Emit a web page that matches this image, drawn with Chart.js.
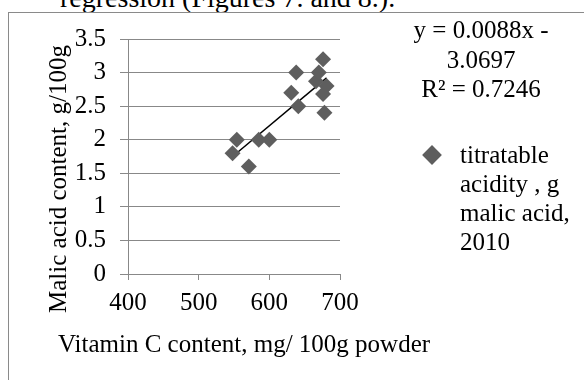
<!DOCTYPE html>
<html>
<head>
<meta charset="utf-8">
<script src="https://cdn.jsdelivr.net/npm/chart.js@4/dist/chart.umd.min.js"></script>
<style>
  body { margin: 0; background: #fff; font-family: 'Liberation Serif', 'Times New Roman', serif; color: #000; }
  #page { position: relative; width: 584px; height: 380px; overflow: hidden; }
  #chartCanvas { position: absolute; left: 0; top: 0; }
  .txt { position: absolute; font-size: 25px; white-space: nowrap; }
  #frame { position: absolute; left: 8px; top: 12px; width: 700px; height: 500px; border: 1px solid #8a8a8a; }
  #topText { left: 60px; top: -16px; font-size: 28px; line-height: 28px; }
  #equation { left: 381px; top: 15px; width: 200px; text-align: center; line-height: 29.5px; }
  #legendText { left: 460px; top: 140px; line-height: 29px; }
  #legendMarker { position: absolute; left: 425px; top: 148px; width: 14px; height: 14px; background: #5e5e5e; transform: rotate(45deg); }
  #xTitle { left: 58px; top: 330px; line-height: 28px; }
  #yTitle { left: -92px; top: 164px; width: 300px; height: 30px; line-height: 30px; text-align: center; transform: rotate(-90deg); }
</style>
</head>
<body>
<div id="page">
  <div class="txt" id="topText">regression (Figures 7. and 8.).</div>
  <div id="frame"></div>
  <canvas id="chartCanvas" width="584" height="380"></canvas>
  <div class="txt" id="equation">y = 0.0088x -<br>3.0697<br>R² = 0.7246</div>
  <div id="legendMarker"></div>
  <div class="txt" id="legendText">titratable<br>acidity , g<br>malic acid,<br>2010</div>
  <div class="txt" id="xTitle">Vitamin C content, mg/ 100g powder</div>
  <div class="txt" id="yTitle">Malic acid content, g/100g</div>
</div>
<script>
// Data
const vitaminC = [548, 554, 571, 585, 600, 631, 638, 641, 666, 670, 676, 676, 681, 678];
const malicAcid = [1.8, 2.0, 1.6, 2.0, 2.0, 2.7, 3.0, 2.5, 2.87, 3.0, 3.2, 2.68, 2.8, 2.4];

// Linear trend line end points
const trendX = [548, 681];
const trendY = [1.75, 2.92];

const xTicks = [400, 500, 600, 700];
const yTicks = [0, 0.5, 1, 1.5, 2, 2.5, 3, 3.5];

const seriesLabel = 'titratable acidity , g malic acid, 2010';

const axisGray = '#888888';
const tickFont = { family: "'Liberation Serif', 'Times New Roman', serif", size: 25 };

const ctx = document.getElementById('chartCanvas').getContext('2d');
new Chart(ctx, {
  type: 'scatter',
  data: {
    datasets: [
      {
        label: seriesLabel,
        data: vitaminC.map((v, i) => ({ x: v, y: malicAcid[i] })),
        pointStyle: 'rectRot',
        pointRadius: 8,
        pointBackgroundColor: '#5e5e5e',
        pointBorderColor: '#5e5e5e',
        pointBorderWidth: 0,
        showLine: false
      },
      {
        label: 'Linear trend',
        data: trendX.map((v, i) => ({ x: v, y: trendY[i] })),
        showLine: true,
        borderColor: '#000000',
        borderWidth: 1.5,
        pointRadius: 0
      }
    ]
  },
  options: {
    responsive: false,
    devicePixelRatio: 1,
    animation: false,
    layout: { padding: { top: 39, right: 244, left: 0, bottom: 0 } },
    plugins: {
      legend: { display: false },
      tooltip: { enabled: false }
    },
    scales: {
      x: {
        type: 'linear',
        min: xTicks[0],
        max: xTicks[xTicks.length - 1],
        afterBuildTicks: scale => { scale.ticks = xTicks.map(v => ({ value: v })); },
        afterFit: scale => { scale.height = 106; },
        ticks: { font: tickFont, color: '#000', padding: 8, maxRotation: 0, callback: v => String(v) },
        grid: { drawOnChartArea: false, drawTicks: true, tickLength: 6, color: axisGray },
        border: { color: axisGray, width: 1 }
      },
      y: {
        min: yTicks[0],
        max: yTicks[yTicks.length - 1],
        afterBuildTicks: scale => { scale.ticks = yTicks.map(v => ({ value: v })); },
        afterFit: scale => { scale.width = 128; },
        ticks: { font: tickFont, color: '#000', padding: 14, callback: v => String(v) },
        grid: { color: axisGray, tickLength: 8, lineWidth: 1 },
        border: { color: axisGray, width: 1 }
      }
    }
  }
});
</script>
</body>
</html>
